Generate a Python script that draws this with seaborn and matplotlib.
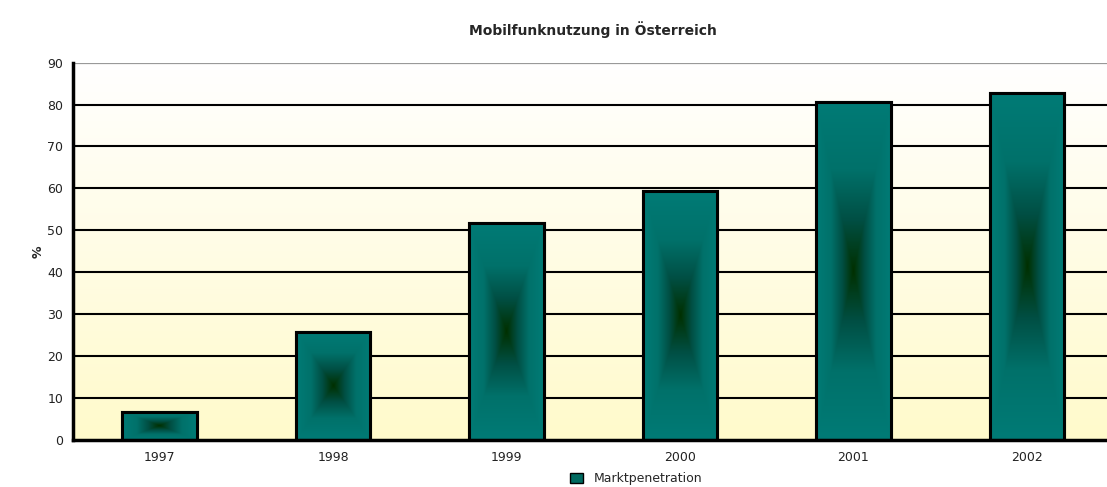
import numpy as np
import pandas as pd
import seaborn as sns
import matplotlib.pyplot as plt
from matplotlib.colors import LinearSegmentedColormap
from matplotlib.patches import Patch

# Daten
jahre = ['1997', '1998', '1999', '2000', '2001', '2002']
marktpenetration = [6.7, 25.8, 51.8, 59.4, 80.7, 82.8]

df = pd.DataFrame({'Jahr': jahre, 'Marktpenetration': marktpenetration})

sns.set_style('white')
plt.rcParams['font.family'] = ['DejaVu Sans']

fig = plt.figure(figsize=(11.07, 4.87), dpi=100)
ax = fig.add_axes([0.066, 0.0965, 0.94, 0.775])

# Hintergrund: weiss oben, hellgelb unten
bg = LinearSegmentedColormap.from_list('bg', ['#fffacb', '#ffffff'])
grad = np.linspace(0, 1, 256).reshape(-1, 1)
ax.imshow(grad, cmap=bg, aspect='auto', origin='lower',
          extent=[-0.5, 5.5, 0, 90], zorder=0)

# Gitterlinien
for y in range(10, 90, 10):
    ax.axhline(y, color='black', lw=1.5, zorder=1)
ax.axhline(90, color='#999999', lw=1.6, zorder=1)

sns.barplot(data=df, x='Jahr', y='Marktpenetration', color='#007a74',
            width=0.43, edgecolor='black', linewidth=2.2, ax=ax, zorder=2)

# Balken mit rechteckigem Verlauf: Mitte dunkelgruen, Rand petrol
bar_cmap = LinearSegmentedColormap.from_list(
    'bar', [(0, '#003000'), (0.3, '#004f44'), (0.6, '#00716a'), (1, '#007b76')])
n = 300
u = np.linspace(-1, 1, n)
xx, yy = np.meshgrid(u, u)
val = np.maximum(np.abs(xx), np.abs(yy))
for p in list(ax.patches):
    x0, y0 = p.get_x(), p.get_y()
    w, h = p.get_width(), p.get_height()
    im = ax.imshow(val, cmap=bar_cmap, vmin=0, vmax=1, aspect='auto',
                   extent=[x0, x0 + w, y0, y0 + h], zorder=2.5)
    im.set_clip_path(p)
    ax.add_patch(plt.Rectangle((x0, y0), w, h, fill=False, edgecolor='black',
                               linewidth=2.2, zorder=3))

ax.set_xlim(-0.5, 5.5)
ax.set_ylim(0, 90)
ax.set_yticks(range(0, 91, 10))
ax.set_xticks(np.arange(-0.5, 5.6, 1), minor=True)
ax.tick_params(axis='x', which='major', length=0, pad=8, labelsize=9, colors='#222222')
ax.tick_params(axis='x', which='minor', length=5, width=2, color='black', direction='out')
ax.tick_params(axis='y', length=5, width=2, color='black', direction='out', labelsize=9,
               pad=2, labelcolor='#222222')

for s in ['top', 'right']:
    ax.spines[s].set_visible(False)
for s in ['left', 'bottom']:
    ax.spines[s].set_linewidth(2.5)
    ax.spines[s].set_color('black')
    ax.spines[s].set_zorder(4)

ax.set_xlabel('')
ax.set_ylabel('%', fontsize=9, fontweight='bold')
ax.yaxis.set_label_coords(-0.027, 0.5)
ax.set_title('Mobilfunknutzung in Österreich', fontsize=10, fontweight='bold', pad=20)

handle = Patch(facecolor='#006a60', edgecolor='black', linewidth=1)
fig.legend([handle], ['Marktpenetration'], loc='center left', bbox_to_anchor=(0.515, 0.017),
           frameon=False, fontsize=9, handlelength=1.0, handleheight=0.8, handletextpad=0.9,
           borderpad=0, borderaxespad=0)

fig.savefig('out.png', dpi=100)
